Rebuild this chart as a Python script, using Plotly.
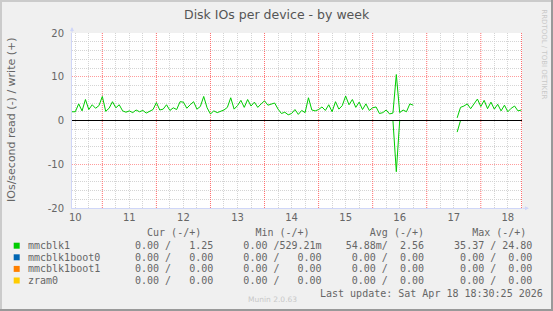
import plotly.graph_objects as go

# ---------------- data ----------------
day_ticks = [10, 11, 12, 13, 14, 15, 16, 17, 18]
day_labels = ["10", "11", "12", "13", "14", "15", "16", "17", "18"]
y_ticks = [-20, -10, 0, 10, 20]
y_tick_labels = ["-20", "-10", "0", "10", "20"]

step = 1.5 / 24  # samples every 1.5 h (day units)

seg1_start = 9.9375
seg1_write = [
    2.0,
    2.0, 3.8, 2.2, 4.8, 2.5, 3.6, 2.8, 3.4, 5.5, 2.1, 2.8, 4.3, 2.9, 3.6, 2.2, 1.9,   # day 10
    2.2, 1.8, 2.4, 2.0, 2.3, 1.7, 2.1, 2.5, 4.1, 2.4, 2.6, 3.6, 2.3, 2.9, 2.5, 4.3,   # day 11
    4.2, 2.8, 3.6, 4.3, 2.6, 3.2, 5.5, 2.9, 1.5, 2.2, 1.8, 2.1, 2.4, 3.0, 5.2, 2.6,   # day 12
    3.4, 4.6, 3.0, 4.8, 3.3, 4.2, 3.0, 3.8, 4.5, 3.5, 3.7, 4.0, 2.6, 1.6, 1.9, 1.3,   # day 13
    1.6, 2.5, 1.4, 2.3, 1.8, 5.2, 2.4, 2.2, 2.5, 3.1, 2.3, 3.6, 2.0, 4.3, 2.6, 3.4,   # day 14
    5.6, 3.6, 4.8, 3.0, 4.2, 2.5, 3.8, 2.3, 2.9, 3.1, 1.6, 1.8, 2.4, 1.5, 1.7, 10.5,  # day 15
    1.8, 2.4, 2.0, 3.8, 3.5,                                                          # day 16
]
seg1_read = [
    0.0,
    0.0, 0.0, 0.0, 0.0, 0.0, 0.0, 0.0, 0.0, 0.0, 0.0, 0.0, 0.0, 0.0, 0.0, 0.0, 0.0,
    0.0, 0.0, 0.0, 0.0, 0.0, 0.0, 0.0, 0.0, 0.0, 0.0, 0.0, 0.0, 0.0, 0.0, 0.0, 0.0,
    0.0, 0.0, 0.0, 0.0, 0.0, 0.0, 0.0, 0.0, 0.0, 0.0, 0.0, 0.0, 0.0, 0.0, 0.0, 0.0,
    0.0, 0.0, 0.0, 0.0, 0.0, 0.0, 0.0, 0.0, 0.0, 0.0, 0.0, 0.0, 0.0, 0.0, 0.0, 0.0,
    0.0, 0.0, 0.0, 0.0, 0.0, 0.0, 0.0, 0.0, 0.0, 0.0, 0.0, 0.0, 0.0, 0.0, 0.0, 0.0,
    0.0, 0.0, 0.0, 0.0, 0.0, 0.0, 0.0, 0.0, 0.0, 0.0, 0.0, 0.0, 0.0, 0.0, 0.0, -11.7,
    0.0, 0.0, 0.0, 0.0, 0.0,
]

seg2_start = 17.0625
seg2_write = [0.6, 3.0, 3.3, 3.8, 2.7, 3.9, 4.9, 3.2, 4.6, 2.7, 4.2, 2.6, 3.7, 2.2, 3.5,
              2.0, 2.8, 3.3, 2.2, 2.4]
seg2_read = [-2.65, 0.0, 0.0, 0.0, 0.0, 0.0, 0.0, 0.0, 0.0, 0.0, 0.0, 0.0, 0.0, 0.0, 0.0,
             0.0, 0.0, 0.0, 0.0, 0.0]

series_names = ["mmcblk1", "mmcblk1boot0", "mmcblk1boot1", "zram0"]
series_colors = ["#00CC00", "#0066B3", "#FF8000", "#FFCC00"]
cur_vals = ["0.00 /   1.25", "0.00 /   0.00", "0.00 /   0.00", "0.00 /   0.00"]
min_vals = ["0.00 /529.21m", "0.00 /   0.00", "0.00 /   0.00", "0.00 /   0.00"]
avg_vals = ["54.88m/  2.56", " 0.00 /  0.00", " 0.00 /  0.00", " 0.00 /  0.00"]
max_vals = ["35.37 / 24.80", " 0.00 /  0.00", " 0.00 /  0.00", " 0.00 /  0.00"]

title_text = "Disk IOs per device - by week"
y_title = "IOs/second read (-) / write (+)"
last_update = "Last update: Sat Apr 18 18:30:25 2026"
munin_ver = "Munin 2.0.63"
rrd_credit = "RRDTOOL / TOBI OETIKER"

# ---------------- layout geometry ----------------
W, H = 553, 311
L, R, T, B = 72, 31, 33, 103
X_RANGE = [9.939, 18.262]
Y_RANGE = [-20, 20]


def xp(px):
    return (px - L) / (W - L - R)


def yp(py):
    return (H - B - py) / (H - T - B)


def nb(s):
    return s.replace(" ", "\u00a0")


GRAY = "#D4D4D4"
RED = "#FF9C9C"
RED_V = "#FF6E6E"
DOT = "1px,1px"

noon = [d + 0.5 for d in range(9, 19) if X_RANGE[0] < d + 0.5 < X_RANGE[1]]
x_minor = [d + f for d in range(9, 19) for f in (0.25, 0.75)]
y_minor = [v for v in range(-20, 21, 2) if v % 10 != 0]

# noon major grid as a polyline (grid derived from the axis range)
gx, gy = [], []
for v in noon:
    gx += [v, v, None]
    gy += [Y_RANGE[0], Y_RANGE[1], None]

x1 = [seg1_start + i * step for i in range(len(seg1_write))]
x2 = [seg2_start + i * step for i in range(len(seg2_write))]
xs = x1 + [None] + x2
write_y = seg1_write + [None] + seg2_write
read_y = seg1_read + [None] + seg2_read

fig = go.Figure()
fig.add_trace(go.Scatter(x=gx, y=gy, mode="lines", cliponaxis=False,
                         line=dict(color=RED_V, width=1, dash=DOT), hoverinfo="skip"))
fig.add_trace(go.Scatter(x=xs, y=read_y, mode="lines",
                         line=dict(color="#00CC00", width=1), hoverinfo="skip"))
fig.add_trace(go.Scatter(x=xs, y=write_y, mode="lines",
                         line=dict(color="#00CC00", width=1), hoverinfo="skip"))

fig.update_layout(
    width=W, height=H,
    margin=dict(l=L, r=R, t=T, b=B, pad=0),
    paper_bgcolor="#F0F0F0", plot_bgcolor="#FFFFFF",
    showlegend=False,
    font=dict(family="DejaVu Sans", color="#666666", size=10),
    xaxis=dict(range=X_RANGE, tickvals=day_ticks, ticktext=day_labels,
               showgrid=True, gridcolor=GRAY, griddash=DOT, gridwidth=1,
               minor=dict(tickvals=x_minor, showgrid=True, gridcolor=GRAY,
                          griddash=DOT, gridwidth=1, ticks=""),
               showline=True, linecolor="#CFD6F8", linewidth=1,
               ticks="", zeroline=False, fixedrange=True,
               tickfont=dict(size=10, color="#666666")),
    yaxis=dict(range=Y_RANGE, tickvals=y_ticks, ticktext=y_tick_labels,
               showgrid=True, gridcolor=RED, griddash=DOT, gridwidth=1,
               minor=dict(tickvals=y_minor, showgrid=True, gridcolor=GRAY,
                          griddash=DOT, gridwidth=1, ticks=""),
               showline=True, linecolor="#CFD6F8", linewidth=1,
               ticks="", zeroline=False, fixedrange=True,
               ticklabelstandoff=5,
               tickfont=dict(size=10, color="#666666")),
)

# zero rule on top of the data
fig.add_hline(y=0, line=dict(color="#000000", width=1.2), layer="above")
# right frame dotted red
fig.add_shape(type="line", xref="paper", yref="paper", x0=xp(521.5), x1=xp(521.5),
              y0=0, y1=1, line=dict(color=RED_V, width=1, dash=DOT), layer="above")

shapes = []
# image border (rrdtool 3D frame)
shapes.append(dict(type="rect", xref="paper", yref="paper",
                   x0=xp(0), x1=xp(W), y0=yp(H - 2), y1=yp(H),
                   line=dict(width=0), fillcolor="#999999"))
shapes.append(dict(type="rect", xref="paper", yref="paper",
                   x0=xp(W - 2), x1=xp(W), y0=yp(H), y1=yp(0),
                   line=dict(width=0), fillcolor="#999999"))
shapes.append(dict(type="rect", xref="paper", yref="paper",
                   x0=xp(0), x1=xp(W - 2), y0=yp(2), y1=yp(0),
                   line=dict(width=0), fillcolor="#CBCBCB"))
shapes.append(dict(type="rect", xref="paper", yref="paper",
                   x0=xp(0), x1=xp(2), y0=yp(H - 2), y1=yp(0),
                   line=dict(width=0), fillcolor="#CBCBCB"))

ann = []
ann.append(dict(x=xp(276.5), y=yp(14), text=title_text, showarrow=False,
                xref="paper", yref="paper", xanchor="center", yanchor="middle",
                font=dict(size=12.5, color="#555555", family="DejaVu Sans")))
ann.append(dict(x=xp(11), y=yp(120), text=y_title, showarrow=False, textangle=-90,
                xref="paper", yref="paper", xanchor="center", yanchor="middle",
                font=dict(size=11, color="#666666", family="DejaVu Sans")))
ann.append(dict(x=xp(543.7), y=yp(54), text=rrd_credit, showarrow=False, textangle=90,
                xref="paper", yref="paper", xanchor="center", yanchor="middle",
                font=dict(size=7, color="#C8C8C8", family="DejaVu Sans")))
# axis arrows
ann.append(dict(x=xp(72), y=yp(27), ax=0, ay=7, text="", showarrow=True,
                xref="paper", yref="paper", arrowhead=2, arrowsize=0.8,
                arrowwidth=1, arrowcolor="#CFD6F8"))
ann.append(dict(x=xp(529), y=yp(208.3), ax=-8, ay=0, text="", showarrow=True,
                xref="paper", yref="paper", arrowhead=2, arrowsize=0.8,
                arrowwidth=1, arrowcolor="#CFD6F8"))

MONO = "DejaVu Sans Mono"
header = "  Cur (-/+)" + " " * 9 + "Min (-/+)" + " " * 10 + "Avg (-/+)" + " " * 8 + "Max (-/+)"
ann.append(dict(x=xp(132.7), y=yp(232.3), text=nb(header), showarrow=False,
                xref="paper", yref="paper", xanchor="left", yanchor="middle",
                font=dict(size=10, color="#666666", family=MONO)))
for k, name in enumerate(series_names):
    yc = 245.7 + 11.6 * k
    shapes.append(dict(type="rect", xref="paper", yref="paper",
                       x0=xp(13.7), x1=xp(19.7), y0=yp(yc + 3), y1=yp(yc - 3),
                       line=dict(width=0), fillcolor=series_colors[k]))
    ann.append(dict(x=xp(26), y=yp(yc), text=nb(name), showarrow=False,
                    xref="paper", yref="paper", xanchor="left", yanchor="middle",
                    font=dict(size=10, color="#666666", family=MONO)))
    row = cur_vals[k] + " " * 5 + min_vals[k] + " " * 4 + avg_vals[k] + " " * 5 + max_vals[k]
    ann.append(dict(x=xp(132.7), y=yp(yc), text=nb(row), showarrow=False,
                    xref="paper", yref="paper", xanchor="left", yanchor="middle",
                    font=dict(size=10, color="#666666", family=MONO)))

ann.append(dict(x=xp(318), y=yp(293.3), text=nb(last_update), showarrow=False,
                xref="paper", yref="paper", xanchor="left", yanchor="middle",
                font=dict(size=10, color="#666666", family=MONO)))
ann.append(dict(x=xp(272), y=yp(299.5), text=munin_ver, showarrow=False,
                xref="paper", yref="paper", xanchor="center", yanchor="middle",
                font=dict(size=7.5, color="#C8C8C8", family="DejaVu Sans")))

fig.update_layout(annotations=ann, shapes=list(fig.layout.shapes) + shapes)

fig.write_html("out.html")
